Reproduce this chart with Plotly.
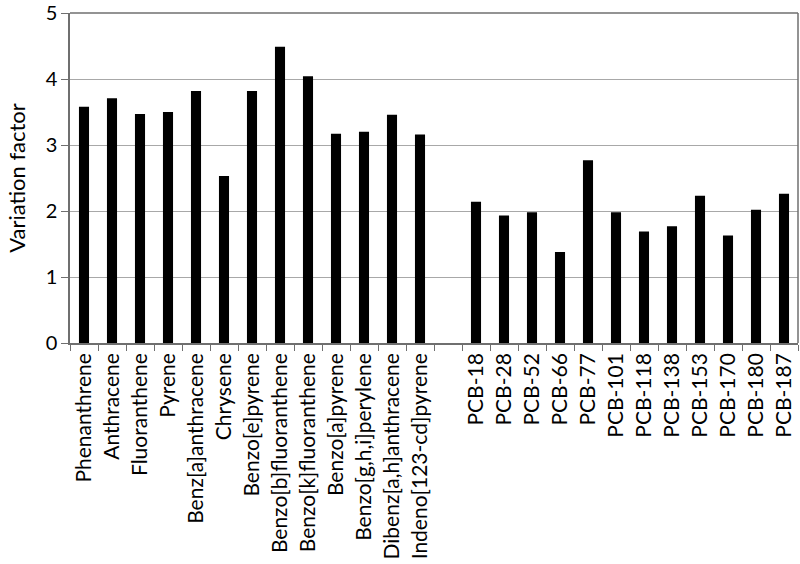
import plotly.graph_objects as go

pah_names = ["Phenanthrene", "Anthracene", "Fluoranthene", "Pyrene", "Benz[a]anthracene",
             "Chrysene", "Benzo[e]pyrene", "Benzo[b]fluoranthene", "Benzo[k]fluoranthene",
             "Benzo[a]pyrene", "Benzo[g,h,i]perylene", "Dibenz[a,h]anthracene",
             "Indeno[123-cd]pyrene"]
pah_values = [3.58, 3.71, 3.47, 3.50, 3.82, 2.53, 3.82, 4.49, 4.04, 3.17, 3.20, 3.46, 3.16]

pcb_names = ["PCB-18", "PCB-28", "PCB-52", "PCB-66", "PCB-77", "PCB-101", "PCB-118",
             "PCB-138", "PCB-153", "PCB-170", "PCB-180", "PCB-187"]
pcb_values = [2.14, 1.93, 1.98, 1.38, 2.77, 1.98, 1.69, 1.77, 2.23, 1.63, 2.02, 2.26]

y_ticks = [0, 1, 2, 3, 4, 5]

gap_label = " "
categories = pah_names + [gap_label] + pcb_names
values = pah_values + [None] + pcb_values

font_family = "Lato, Carlito, Calibri, sans-serif"

fig = go.Figure(go.Bar(x=categories, y=values, marker=dict(color="black", line=dict(width=0)),
                       width=0.36))

fig.update_layout(
    width=800, height=564,
    margin=dict(l=70, r=2, t=13, b=221),
    plot_bgcolor="white", paper_bgcolor="white",
    showlegend=False,
    font=dict(family=font_family, color="black"),
    shapes=[dict(type="line", xref="paper", yref="paper", x0=1, x1=1, y0=0, y1=1,
                 line=dict(color="#6f6f6f", width=1.5)),
            dict(type="line", xref="paper", yref="paper", x0=0, x1=1, y0=1, y1=1,
                 line=dict(color="#6f6f6f", width=1.5))],
)
fig.update_xaxes(
    type="category", categoryorder="array", categoryarray=categories,
    tickangle=-90, tickfont=dict(size=21, family=font_family),
    showline=True, linecolor="#6f6f6f", linewidth=1.5,
    ticks="outside", tickson="boundaries", ticklen=6, tickcolor="#6f6f6f",
    showgrid=False, range=[-0.5, len(categories) - 0.5], automargin=False,
)
fig.update_yaxes(
    range=[0, 5], tickmode="array", tickvals=y_ticks, tickfont=dict(size=20, family=font_family),
    title=dict(text="Variation factor", font=dict(size=22, family=font_family), standoff=14),
    showline=True, linecolor="#6f6f6f", linewidth=1.5,
    ticks="outside", ticklen=7, tickcolor="#6f6f6f",
    showgrid=True, gridcolor="#a8a8a8", gridwidth=1.2, zeroline=False, automargin=False,
    ticklabeloverflow="allow",
)

fig.write_html("out.html", config={"displayModeBar": False},
               post_script="document.body.style.margin='0';document.body.style.overflow='hidden';")
